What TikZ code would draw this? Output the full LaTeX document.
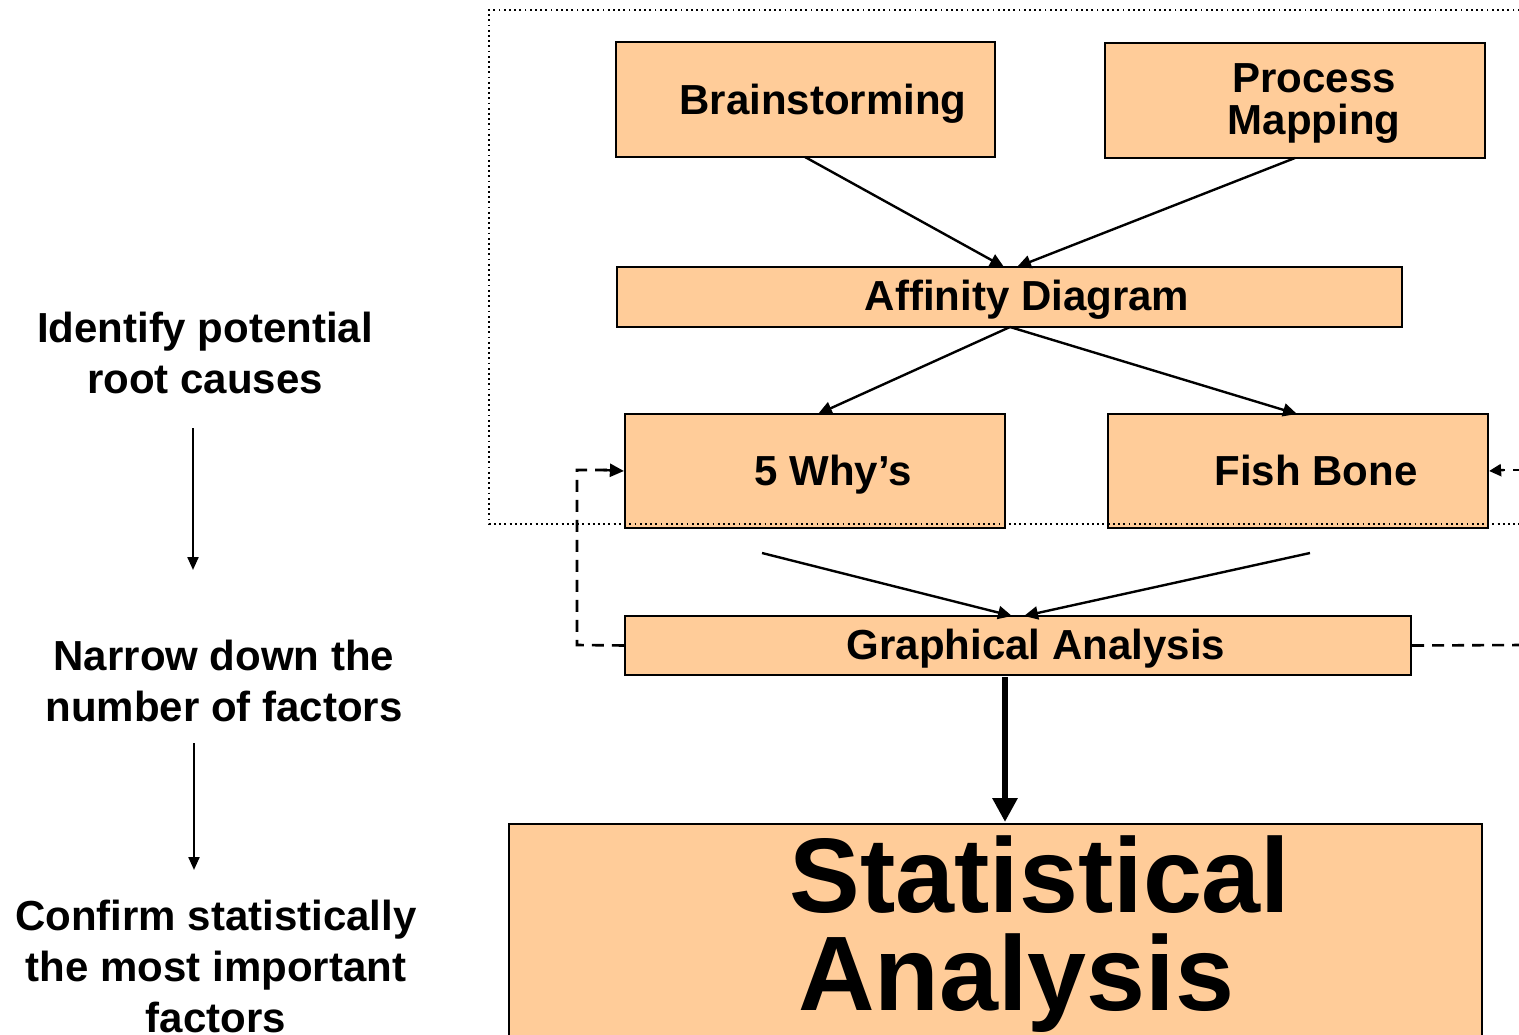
\documentclass[tikz,border=0pt]{standalone}
\usepackage{fontspec}
\setmainfont{Liberation Sans}
\usetikzlibrary{arrows.meta}
\definecolor{boxfill}{RGB}{255,204,153}
\tikzset{
  x=1pt, y=-1pt,
  stepbox/.style={draw=black, line width=2.2pt, fill=boxfill, inner sep=0pt, anchor=center},
  boxtext/.style={font=\bfseries\fontsize{42}{42}\selectfont, anchor=base, align=center, inner sep=0pt},
  sidetext/.style={font=\bfseries\fontsize{42}{51}\selectfont, anchor=base, align=center, inner sep=0pt},
  link/.style={line width=2.4pt, -{Triangle[length=14pt,width=13pt]}},
  loop/.style={line width=2.6pt, dash pattern=on 12pt off 8pt},
  stepdown/.style={line width=2.2pt, -{Triangle[length=13pt,width=11pt]}},
  frame/.style={line width=1.8pt, dash pattern=on 1.8pt off 3.4pt}
}
\begin{document}
\begin{tikzpicture}
\useasboundingbox (0,0) rectangle (1519,1035);

% frame round the idea-generation tools
\draw[frame] (1530,10) -- (489,10) -- (489,524) -- (1530,524);

% boxes
\node[stepbox, minimum width=379pt, minimum height=115pt] (bs) at (805.5,99.5) {};
\node[stepbox, minimum width=380pt, minimum height=115pt] (pm) at (1295,100.5) {};
\node[stepbox, minimum width=785pt, minimum height=60pt] (ad) at (1009.5,297) {};
\node[stepbox, minimum width=380pt, minimum height=114pt] (wy) at (815,471) {};
\node[stepbox, minimum width=380pt, minimum height=114pt] (fb) at (1298,471) {};
\node[stepbox, minimum width=786pt, minimum height=59pt] (ga) at (1018,645.5) {};
\node[stepbox, minimum width=973pt, minimum height=230pt] (sa) at (995.5,939) {};

% the frame's lower edge runs over the two boxes
\draw[frame] (489,524) -- (1530,524);

% box texts
\node[boxtext] (bs-t) at (823,115) {Brainstorming};
\node[boxtext] (pm-t) at (1314,135) {Process\\Mapping};
\node[boxtext] (ad-t) at (1027,311) {Affinity Diagram};
\node[boxtext] (wy-t) at (833,485) {5 Why’s};
\node[boxtext] (fb-t) at (1316,485) {Fish Bone};
\node[boxtext] (ga-t) at (1036,659) {Graphical Analysis};
\node[font=\bfseries\fontsize{106}{98}\selectfont, anchor=base, align=center, inner sep=0pt] (sa-t) at (1040,1010) {Statistical\\Analysis\hspace*{48pt}};

% flow between the tools
\coordinate (ad-in1) at (1004,267);
\coordinate (ad-in2) at (1017,267);
\draw[link] (805,157) -- (ad-in1);
\draw[link] (1295,158) -- (ad-in2);
\draw[link] (1010,327) -- (818,414);
\draw[link] (1010,327) -- (1297,414);
\coordinate (wy-out) at (762,553);
\coordinate (fb-out) at (1310,553);
\draw[link] (wy-out) -- (1012,616);
\draw[link] (fb-out) -- (1024,616);
\draw[line width=6.5pt, -{Triangle[length=24pt,width=24pt]}] (1005,677) -- (1005,822);

% feedback loops
\draw[loop] (ga.west) -- (577,645) -- (577,470) -- (608,470);
\draw[line width=2.4pt, -{Triangle[length=14pt,width=13pt]}] (603,470) -- (wy.west);
\coordinate (loop-r1) at (1525,645);
\coordinate (loop-r2) at (1525,470);
\draw[loop] (ga.east) -- (loop-r1);
\draw[loop] (loop-r2) -- (1503,470);
\draw[line width=2.4pt, -{Triangle[length=12pt,width=12pt]}] (1504,470) -- (fb.east);

% stages on the left
\node[sidetext] (s1) at (205,393) {Identify potential\\root causes};
\node[sidetext] (s2) at (224,721) {Narrow down the\\number of factors};
\node[sidetext] (s3) at (216,1032) {Confirm statistically\\the most important\\factors};
\coordinate (s1-b) at (193,428);
\coordinate (s2-t) at (193,570);
\coordinate (s2-b) at (194,743);
\coordinate (s3-t) at (194,870);
\draw[stepdown] (s1-b) -- (s2-t);
\draw[stepdown] (s2-b) -- (s3-t);
\end{tikzpicture}
\end{document}
